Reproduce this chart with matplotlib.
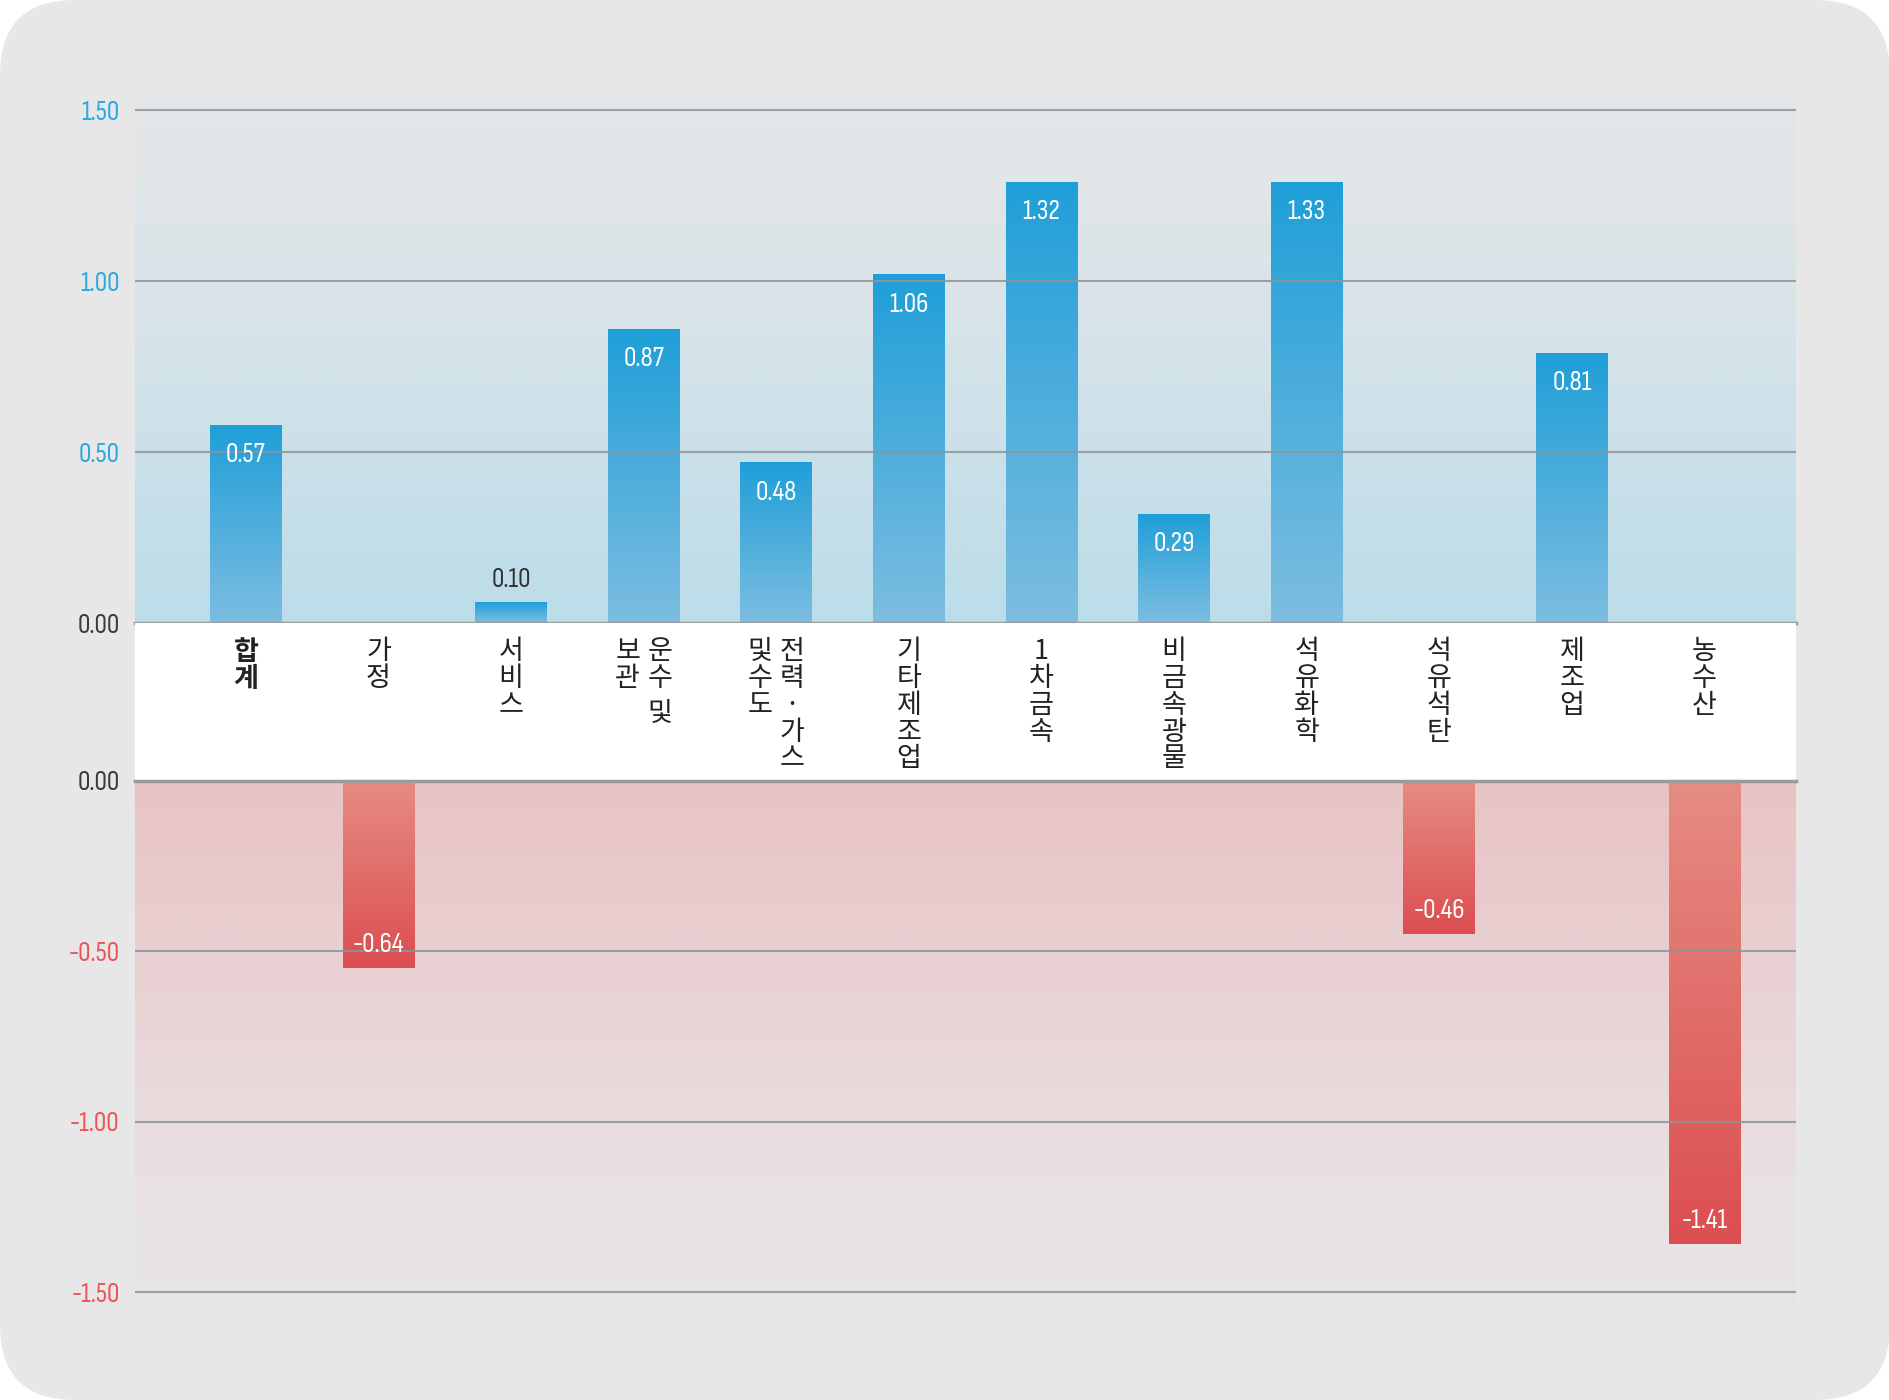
import numpy as np
import matplotlib
matplotlib.use("Agg")
import matplotlib.pyplot as plt
import matplotlib.transforms as mtransforms
from matplotlib.colors import LinearSegmentedColormap
from matplotlib.patches import FancyBboxPatch

# ---- data ----
categories = ["합계", "가정", "서비스", "운수 및 보관", "전력·가스 및 수도", "기타제조업",
              "1차금속", "비금속광물", "석유화학", "석유석탄", "제조업", "농수산"]
# vertical label columns, read right to left
label_columns = [["합계"], ["가정"], ["서비스"], ["운수 및", "보관"], ["전력·가스", "및수도"],
                 ["기타제조업"], ["1차금속"], ["비금속광물"], ["석유화학"], ["석유석탄"],
                 ["제조업"], ["농수산"]]
value_labels = [0.57, -0.64, 0.10, 0.87, 0.48, 1.06, 1.32, 0.29, 1.33, -0.46, 0.81, -1.41]
# bar lengths as drawn in the picture (they differ slightly from the printed values)
bar_heights = [0.58, -0.55, 0.06, 0.86, 0.47, 1.02, 1.29, 0.32, 1.29, -0.45, 0.79, -1.36]
top_ticks = [0.0, 0.5, 1.0, 1.5]
bottom_ticks = [0.0, -0.5, -1.0, -1.5]

NUM_FONT = ["Sofia Sans Condensed", "DejaVu Sans"]
KR_FONT = ["Noto Sans CJK KR", "DejaVu Sans"]
BLUE_TXT = "#2aa9e0"
RED_TXT = "#ee5359"
GRID = "#8d959b"

W, H = 1890, 1400
fig = plt.figure(figsize=(W / 100, H / 100), dpi=100)
fig.patch.set_facecolor("white")
fig.patches.append(FancyBboxPatch((0, 0), W, H, boxstyle="round,pad=0,rounding_size=75",
                                  transform=mtransforms.IdentityTransform(),
                                  facecolor="#e7e7e7", edgecolor="none", zorder=-10))

left, width = 135 / W, (1796 - 135) / W
ax_top = fig.add_axes([left, 1 - 623 / H, width, (623 - 54) / H])
ax_mid = fig.add_axes([left, 1 - 781 / H, width, (781 - 623) / H])
ax_bot = fig.add_axes([left, 1 - 1332 / H, width, (1332 - 781) / H])

x = np.arange(len(categories))
heights = np.array(bar_heights)
xlim = (-0.836, len(categories) - 1 + 0.69)


def panel_background(ax, colors):
    # colors listed from top to bottom
    cmap = LinearSegmentedColormap.from_list("bg", colors)
    grad = np.linspace(0, 1, 256).reshape(-1, 1)
    ax.imshow(grad, cmap=cmap, aspect="auto", extent=[0, 1, 0, 1], origin="upper",
              transform=ax.transAxes, zorder=0, interpolation="bicubic")


def gradient_bars(ax, xs, hs, near, far):
    bars = ax.bar(xs, hs, width=0.54, color="none", edgecolor="none", zorder=2)
    cmap = LinearSegmentedColormap.from_list("bar", [near, far])
    grad = np.linspace(0, 1, 128).reshape(-1, 1)
    for rect in bars:
        x0, w, h = rect.get_x(), rect.get_width(), rect.get_height()
        if h < 0:
            img = ax.imshow(grad, cmap=cmap, aspect="auto", origin="upper",
                            extent=[x0, x0 + w, h, 0], zorder=2)
        else:
            img = ax.imshow(grad, cmap=cmap, aspect="auto", origin="lower",
                            extent=[x0, x0 + w, 0, h], zorder=2)
        img.set_clip_path(rect)
    return bars


# backgrounds
panel_background(ax_top, ["#e6e7e8", "#e0e5e8", "#d6e3e9", "#c8e0e9", "#bbdde9"])
panel_background(ax_bot, ["#e8c3c5", "#e9cdcf", "#e9d7d9", "#e8e1e2", "#e7e6e7"])

# bars
pos = heights > 0
neg = heights < 0
gradient_bars(ax_top, x[pos], heights[pos], "#7dbde1", "#1f9fd8")
gradient_bars(ax_bot, x[neg], heights[neg], "#e68c82", "#dc4e51")

# value labels
for xi, hv, lab in zip(x, heights, value_labels):
    txt = f"{lab:.2f}"
    if hv > 0.15:
        ax_top.annotate(txt, (xi, hv), xytext=(0, -22), textcoords="offset points",
                        ha="center", va="center", color="white", fontsize=20,
                        family=NUM_FONT, zorder=5)
    elif hv > 0:
        ax_top.annotate(txt, (xi, hv), xytext=(0, 16), textcoords="offset points",
                        ha="center", va="center", color="#333333", fontsize=20,
                        family=NUM_FONT, zorder=5)
    else:
        ax_bot.annotate(txt, (xi, hv), xytext=(0, 17), textcoords="offset points",
                        ha="center", va="center", color="white", fontsize=20,
                        family=NUM_FONT, zorder=5)

# axes styling
for ax, ylim, ticks, tcol in ((ax_top, (0, 1.664), top_ticks, BLUE_TXT),
                              (ax_bot, (-1.617, 0), bottom_ticks, RED_TXT)):
    ax.set_xlim(*xlim)
    ax.set_ylim(*ylim)
    for s in ax.spines.values():
        s.set_visible(False)
    ax.set_xticks([])
    ax.set_yticks(ticks)
    ax.set_yticklabels([f"{t:.2f}" for t in ticks], family=NUM_FONT, fontsize=20)
    ax.tick_params(axis="y", length=0, pad=11)
    for t, lab in zip(ticks, ax.get_yticklabels()):
        lab.set_color("#3a3a3a" if t == 0 else tcol)
    for t in ticks:
        if t != 0:
            ax.axhline(t, color=GRID, lw=1.5, alpha=0.85, zorder=4)
    ax.axhline(0, color="#9b9b9b", lw=2.5, zorder=4, clip_on=False)

ax_mid.set_xlim(*xlim)
ax_mid.set_ylim(0, 1)
ax_mid.set_facecolor("white")
ax_mid.set_xticks([])
ax_mid.set_yticks([])
for s in ax_mid.spines.values():
    s.set_visible(False)

# vertical category labels
step_pt = 26.7 * 0.72
first_pt = -29 * 0.72
col_dx = 16 * 0.72
for xi, cols, name in zip(x, label_columns, categories):
    n = len(cols)
    for ci, col in enumerate(cols):
        dx = 0 if n == 1 else (col_dx if ci == 0 else -col_dx)
        k = 0.0
        for ch in col:
            if ch == " ":
                k += 0.3
                continue
            ax_mid.annotate(ch, (xi, 1), xycoords=("data", "axes fraction"),
                            xytext=(dx, first_pt - k * step_pt), textcoords="offset points",
                            ha="center", va="center", fontsize=19.5, family=KR_FONT,
                            fontweight="bold" if name == "합계" else "normal",
                            color="#222222")
            k += 1

fig.savefig("out.png", dpi=100, facecolor=fig.get_facecolor())
